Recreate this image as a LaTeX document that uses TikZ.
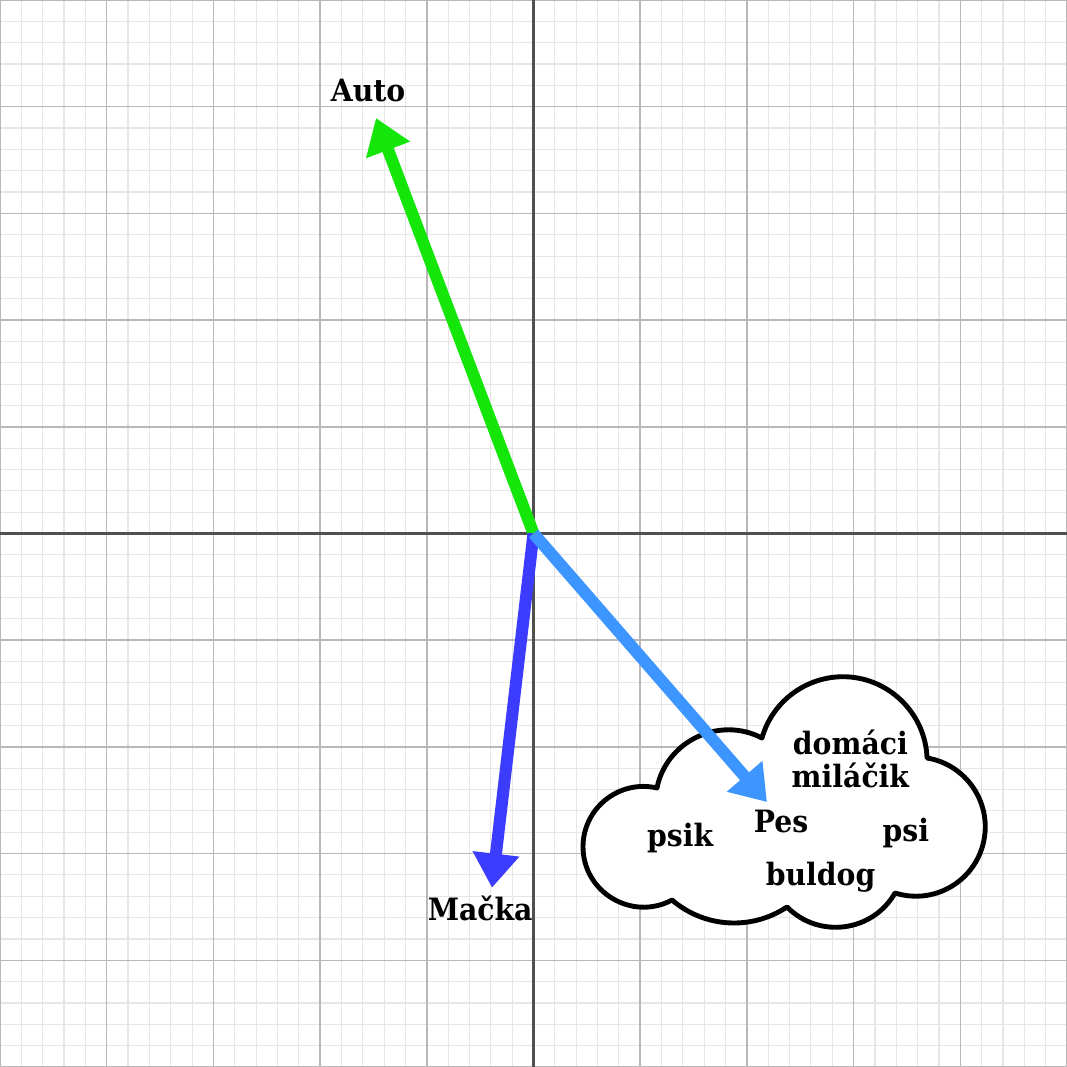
\documentclass[tikz,border=0pt]{standalone}
\usepackage{fontspec}
\setmainfont[FakeStretch=0.92]{DejaVu Serif}
\usetikzlibrary{arrows.meta}
\definecolor{gridminor}{HTML}{E6E6E6}
\definecolor{gridmajor}{HTML}{B8B8B8}
\definecolor{axiscol}{HTML}{505050}
\definecolor{autocol}{HTML}{14E60A}
\definecolor{mackacol}{HTML}{3C3CFF}
\definecolor{pescol}{HTML}{3D96FF}
\tikzset{
  vec/.style={line width=3.2pt, -{Triangle[length=0.32cm,width=0.42cm]}},
  word/.style={font=\bfseries\fontsize{8.2}{8.8}\selectfont, inner sep=0pt, align=center},
  cloudline/.style={draw=black, line width=1.3pt, fill=white, line join=round}
}
\begin{document}
\begin{tikzpicture}
\useasboundingbox (-5,-5) rectangle (5,5);
% grid
\draw[gridminor, line width=0.3pt] (-5,-5) grid[step=0.2] (5,5);
\draw[gridmajor, line width=0.4pt] (-5,-5) grid[step=1] (5,5);
\draw[axiscol, line width=0.6pt] (-5,0) -- (5,0);
\draw[axiscol, line width=0.6pt] (0,-5) -- (0,5);
% cloud
\coordinate (c1) at (1.157,-2.385);
\coordinate (c2) at (2.141,-1.917);
\coordinate (c3) at (3.688,-2.104);
\coordinate (c4) at (3.388,-3.369);
\coordinate (c5) at (2.376,-3.500);
\coordinate (c6) at (1.298,-3.435);
\coordinate (eL) at (0.464,-2.936);
\coordinate (eT) at (2.966,-1.345);
\coordinate (eR) at (4.231,-2.807);
\path[cloudline] (c1)
  to[out=167,in=90,looseness=1.05] (eL)
  to[out=270,in=208.3,looseness=1.12] (c6)
  to[out=-40.6,in=213.7,looseness=0.95] (c5)
  to[out=-45.4,in=240.2,looseness=1.06] (c4)
  to[out=-17.4,in=264.8,looseness=1.05] (eR)
  to[out=84.8,in=-9.3,looseness=0.98] (c3)
  to[out=91.9,in=-4.8,looseness=0.97] (eT)
  to[out=175.2,in=74.3,looseness=0.96] (c2)
  to[out=152.3,in=78.6,looseness=1.06] (c1) -- cycle;
% vectors
\coordinate (O) at (0,0);
\coordinate (autotip) at (-1.476,3.894);
\coordinate (mackatip) at (-0.389,-3.320);
\coordinate (pestip) at (2.188,-2.517);
\draw[vec, autocol] (O) -- (autotip);
\draw[vec, mackacol] (O) -- (mackatip);
\draw[vec, pescol] (O) -- (pestip);
% labels
\node[word] (auto) at (-1.55,4.15) {Auto};
\node[word] (macka) at (-0.50,-3.51) {Mačka};
\node[word] (pes) at (2.32,-2.70) {Pes};
\node[word] (domaci) at (2.97,-2.11) {domáci\\miláčik};
\node[word] (psik) at (1.375,-2.85) {psik};
\node[word] (psi) at (3.49,-2.81) {psi};
\node[word] (buldog) at (2.69,-3.22) {buldog};
\end{tikzpicture}
\end{document}
